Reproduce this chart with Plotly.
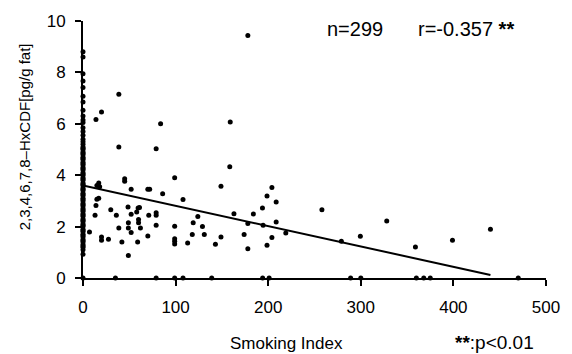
import plotly.graph_objects as go

# Non-smokers (Smoking Index = 0)
y_zero_index = [8.8, 8.6, 7.95, 7.67, 7.41, 7.07, 6.85, 6.53, 6.3, 6.15, 6.05, 5.85,
                5.7, 5.55, 5.4, 5.3, 5.2, 5.1, 5.0, 4.9, 4.8, 4.7, 4.6, 4.5, 4.4, 4.3,
                4.2, 4.1, 4.0, 3.9, 3.8, 3.7, 3.6, 3.5, 3.4, 3.3, 3.2, 3.1, 3.0, 2.9,
                2.8, 2.7, 2.6, 2.5, 2.4, 2.3, 2.2, 2.1, 2.0, 1.9, 1.8, 1.7, 1.6, 1.5,
                1.4, 1.3, 1.2, 1.1, 0.92, 0.0,
                5.05, 4.85, 4.65, 4.45, 4.25, 4.05, 3.85, 3.65, 3.45, 3.25, 3.05, 2.85,
                2.65, 2.45, 2.25, 2.05, 1.85, 1.65, 1.45, 1.25]

# Smokers
smk_x = [38.7, 79, 20, 15, 17, 18, 45, 45, 52, 70, 72, 86, 99, 108, 149, 15, 17, 14, 13,
         30, 36, 38.7, 48.6, 52, 49, 49, 52, 59.5, 61, 58, 60, 60, 62, 71, 79, 79, 79, 70,
         59, 42, 27.5, 20, 7, 49, 99, 99, 99, 99, 113, 118, 119, 124, 129, 131, 143, 149,
         158.5, 163, 174, 178, 178, 184, 193.8, 194.5, 198.7, 204, 208.6, 208.6, 204,
         198.7, 219, 258, 279, 299.5, 328, 359, 399, 440, 178, 159, 38.7, 20, 14, 83.8]
smk_y = [5.1, 5.03, 1.6, 3.6, 3.7, 3.55, 3.86, 3.76, 3.45, 3.45, 3.45, 3.28, 3.9, 3.05,
         3.57, 3.06, 3.1, 2.82, 2.44, 2.66, 2.44, 1.95, 2.76, 2.48, 2.15, 1.95, 1.77, 2.72,
         2.74, 2.57, 2.28, 2.15, 1.95, 2.44, 2.54, 2.44, 2.05, 1.63, 1.4, 1.4, 1.51, 1.47,
         1.79, 0.88, 2.01, 1.53, 1.43, 1.32, 1.36, 1.69, 2.15, 2.39, 2.0, 1.69, 1.31, 1.6,
         4.33, 2.5, 1.69, 2.12, 1.14, 2.49, 2.72, 2.05, 3.19, 3.52, 2.96, 2.18, 1.58, 1.27,
         1.75, 2.66, 1.43, 1.62, 2.22, 1.21, 1.47, 1.9, 9.44, 6.07, 7.15, 6.46, 6.17, 6.0]

# Smokers below detection (value 0)
zero_x = [35, 79, 99, 108, 139, 194, 201, 289, 300, 360, 368, 375, 470]

# Regression line
reg_x = [0, 440]
reg_y = [3.6, 0.12]

x_ticks = [0, 100, 200, 300, 400, 500]
y_ticks = [0, 2, 4, 6, 8, 10]

FONT = "Liberation Sans, Arial, sans-serif"
MS = 5
STARS = "<b>**</b>"

fig = go.Figure()
fig.add_trace(go.Scatter(x=[0] * len(y_zero_index), y=y_zero_index, mode="markers",
                         marker=dict(color="black", size=MS), cliponaxis=False))
fig.add_trace(go.Scatter(x=smk_x, y=smk_y, mode="markers",
                         marker=dict(color="black", size=MS), cliponaxis=False))
fig.add_trace(go.Scatter(x=zero_x, y=[0] * len(zero_x), mode="markers",
                         marker=dict(color="black", size=MS), cliponaxis=False))
fig.add_trace(go.Scatter(x=reg_x, y=reg_y, mode="lines",
                         line=dict(color="black", width=2), cliponaxis=False))

fig.update_layout(
    width=572, height=354,
    margin=dict(l=83, r=16, t=21, b=76),
    paper_bgcolor="white", plot_bgcolor="white",
    showlegend=False,
    font=dict(family=FONT, size=17, color="black"),
    xaxis=dict(range=[0, 500], tickvals=x_ticks, ticktext=[str(v) for v in x_ticks],
               showgrid=False, zeroline=False, showline=True, linecolor="black",
               linewidth=2, ticks="outside", ticklen=6, tickwidth=2, tickcolor="black",
               ticklabelstandoff=7, tickfont=dict(size=17)),
    yaxis=dict(range=[0, 10], tickvals=y_ticks, ticktext=[str(v) for v in y_ticks],
               showgrid=False, zeroline=False, showline=True, linecolor="black",
               linewidth=2, ticks="outside", ticklen=6, tickwidth=2, tickcolor="black",
               ticklabelstandoff=6, tickfont=dict(size=17)),
    annotations=[
        dict(text="n=299", x=361, y=29, xref="paper", yref="paper", showarrow=False,
             xanchor="center", yanchor="middle", font=dict(size=20)),
        dict(text="r=-0.357 " + STARS, x=423, y=29, xref="paper", yref="paper",
             showarrow=False, xanchor="left", yanchor="middle", font=dict(size=20)),
        dict(text="Smoking Index", x=291, y=343, xref="paper", yref="paper",
             showarrow=False, xanchor="center", yanchor="middle", font=dict(size=17)),
        dict(text=STARS + ":p<0.01", x=461, y=342, xref="paper", yref="paper",
             showarrow=False, xanchor="left", yanchor="middle", font=dict(size=19)),
        dict(text="2,3,4,6,7,8–HxCDF[pg/g fat]", x=23, y=137, xref="paper", yref="paper",
             showarrow=False, textangle=-90, xanchor="center", yanchor="middle",
             font=dict(size=15)),
    ],
)

# convert pixel-based annotation positions into paper coordinates
pw = 572 - 83 - 16
ph = 354 - 21 - 76
for a in fig.layout.annotations:
    a.x = (a.x - 83) / pw
    a.y = (354 - 76 - a.y) / ph

fig.write_html("out.html")
